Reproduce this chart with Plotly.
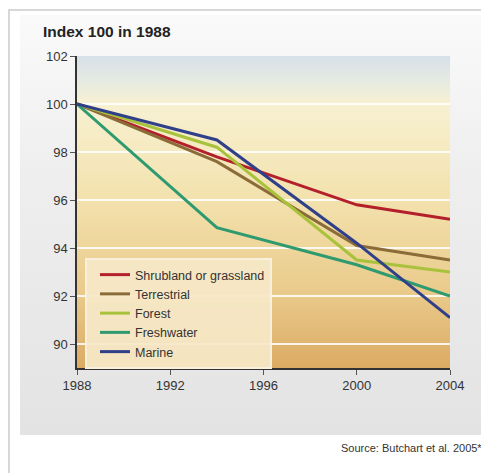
import base64
import plotly.graph_objects as go

years = [1988, 1994, 2000, 2004]
shrubland = [100, 97.8, 95.8, 95.2]
terrestrial = [100, 97.6, 94.1, 93.5]
forest = [100, 98.2, 93.5, 93.0]
freshwater = [100, 94.85, 93.3, 92.0]
marine = [100, 98.5, 94.2, 91.1]

series_names = ["Shrubland or grassland", "Terrestrial", "Forest", "Freshwater", "Marine"]
series_values = [shrubland, terrestrial, forest, freshwater, marine]
series_colors = ["#b3202c", "#8b6b38", "#a9c23c", "#2f9a70", "#2f3f8a"]

x_ticks = [1988, 1992, 1996, 2000, 2004]
y_ticks = [90, 92, 94, 96, 98, 100, 102]

# the page body has an 8px margin, so the figure is drawn 8px smaller
OFF = 8
W, H = 489 - OFF, 473 - OFF
L, R, T, B = 69, 39, 48, 105
PW, PH = W - L - R, H - T - B


def px_x(p):
    # page pixel -> paper coordinate
    return (p - OFF - L) / PW


def px_y(p):
    return (H - B - (p - OFF)) / PH


def gradient_svg(stops):
    s = "".join('<stop offset="%s" stop-color="%s"/>' % (o, c) for o, c in stops)
    svg = ('<svg xmlns="http://www.w3.org/2000/svg" width="100" height="100" '
           'viewBox="0 0 100 100" preserveAspectRatio="none">'
           '<defs><linearGradient id="g" x1="0" y1="0" x2="0" y2="1">' + s +
           '</linearGradient></defs><rect width="100" height="100" fill="url(#g)"/></svg>')
    return "data:image/svg+xml;base64," + base64.b64encode(svg.encode()).decode()


fig = go.Figure()

for name, vals, col in zip(series_names, series_values, series_colors):
    fig.add_trace(go.Scatter(x=years, y=vals, mode="lines", name=name,
                             line=dict(color=col, width=3)))

# panel background (light grey) and plot background (sky -> sand)
panel_src = gradient_svg([(0, "#fafafa"), (0.35, "#efefef"), (1, "#e3e3e3")])
plot_src = gradient_svg([(0, "#d6e0e8"), (0.08, "#e6eae2"), (0.15, "#f7f1d2"),
                         (0.45, "#f3e2ae"), (0.75, "#eacb8c"), (1, "#dbab64")])

fig.update_layout(images=[
    dict(source=panel_src, xref="paper", yref="paper",
         x=px_x(20), y=px_y(15), sizex=px_x(483) - px_x(20), sizey=px_y(15) - px_y(435),
         sizing="stretch", layer="below", xanchor="left", yanchor="top"),
    dict(source=plot_src, xref="x", yref="y",
         x=1988, y=102, sizex=16, sizey=13,
         sizing="stretch", layer="below", xanchor="left", yanchor="top"),
])

# thin outer frame (top and left edges visible)
fig.add_shape(type="rect", xref="paper", yref="paper",
              x0=px_x(9), x1=px_x(520), y0=px_y(520), y1=px_y(10),
              line=dict(color="#cccccc", width=1.5), fillcolor="rgba(0,0,0,0)", layer="below")

fig.add_annotation(text="<b>Index 100 in 1988</b>", xref="paper", yref="paper",
                   x=px_x(41), y=px_y(31), xanchor="left", yanchor="middle",
                   showarrow=False, font=dict(size=15.5, color="#222222"))
fig.add_annotation(text="Source: Butchart et al. 2005*", xref="paper", yref="paper",
                   x=px_x(484), y=px_y(448), xanchor="right", yanchor="middle",
                   showarrow=False, font=dict(size=11, color="#333333"))

fig.update_xaxes(range=[1988, 2004], tickvals=x_ticks, showgrid=False,
                 showline=True, linecolor="#333333", linewidth=1.5,
                 ticks="outside", ticklen=5, tickcolor="#555555",
                 tickfont=dict(size=13, color="#333333"), zeroline=False)
fig.update_yaxes(range=[89, 102], tickvals=y_ticks, showgrid=True,
                 gridcolor="rgba(255,255,255,0.85)", gridwidth=1.5,
                 showline=True, linecolor="#333333", linewidth=1.5,
                 ticks="outside", ticklen=5, tickcolor="#555555",
                 tickfont=dict(size=13, color="#333333"), zeroline=False)

fig.update_layout(
    width=W, height=H, autosize=False,
    margin=dict(l=L, r=R, t=T, b=B),
    paper_bgcolor="white", plot_bgcolor="rgba(0,0,0,0)",
    font=dict(family="Liberation Sans, Arial, sans-serif"),
    showlegend=True,
    legend=dict(x=px_x(85), y=px_y(258), xanchor="left", yanchor="top",
                bgcolor="rgba(246,232,200,0.92)", bordercolor="#f9f0dc", borderwidth=2,
                font=dict(size=12.5, color="#333333"), traceorder="normal",
                itemwidth=30, indentation=8),
)

fig.write_html("out.html")
